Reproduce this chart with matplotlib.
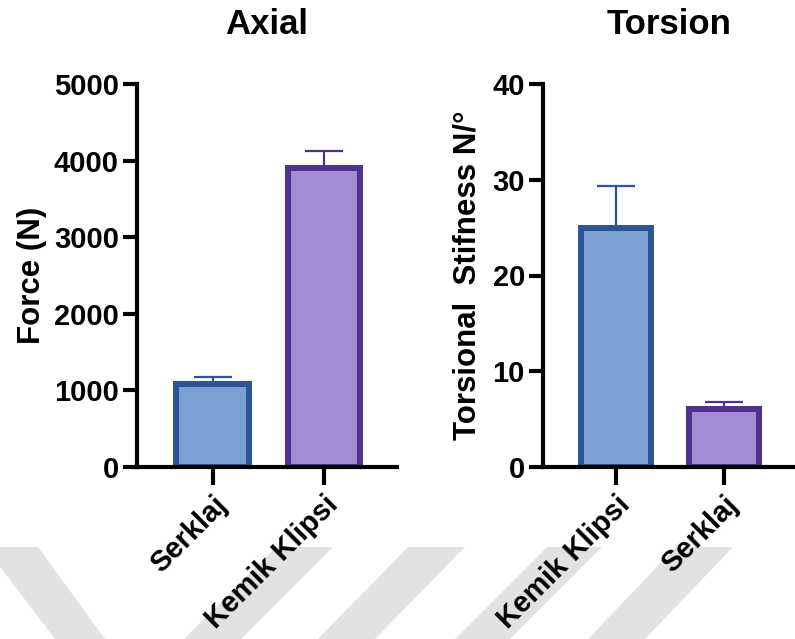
import matplotlib
matplotlib.use("Agg")
import matplotlib.pyplot as plt
from matplotlib.patches import Polygon

plt.rcParams['font.family'] = ['Liberation Sans', 'DejaVu Sans']
plt.rcParams['font.weight'] = 'bold'

# data
axial_groups = ['Serklaj', 'Kemik Klipsi']
axial_mean = [1080, 3900]
axial_err = [95, 230]

torsion_groups = ['Kemik Klipsi', 'Serklaj']
torsion_mean = [25.0, 6.1]
torsion_err = [4.3, 0.7]

blue_face, blue_edge = '#7ba0d4', '#2c5597'
purple_face, purple_edge = '#a58bd3', '#50318f'

W, H = 795, 639
fig = plt.figure(figsize=(W / 100, H / 100), dpi=100)

# watermark stripes in the background (pixel coords of the picture)
stripes = [
    [(-15, 547), (38, 547), (105, 639), (55, 639)],
    [(276, 547), (333, 547), (241, 639), (184, 639)],
    [(408, 547), (465, 547), (375, 639), (318, 639)],
    [(547, 547), (602, 547), (510, 639), (455, 639)],
    [(676, 547), (733, 547), (645, 639), (588, 639)],
]
for s in stripes:
    pts = [(x / W, 1 - y / H) for x, y in s]
    fig.patches.append(Polygon(pts, closed=True, transform=fig.transFigure,
                               facecolor='#e2e2e2', edgecolor='none', zorder=-1))


def draw_panel(ax, groups, means, errs, colors, ylim, yticks, ylabel, title, lpad):
    x = list(range(len(groups)))
    faces = [c[0] for c in colors]
    edges = [c[1] for c in colors]
    ax.bar(x, means, width=0.65, color=faces, edgecolor=edges, linewidth=4.3, zorder=2)
    for xi, m, e, ec in zip(x, means, errs, edges):
        ax.errorbar(xi, m, yerr=[[0], [e]], fmt='none', ecolor=ec,
                    elinewidth=1.6, capsize=14, capthick=1.6, zorder=1)
    ax.set_xlim(-0.68, len(groups) - 1 + 0.66)
    ax.set_ylim(*ylim)
    ax.set_yticks(yticks)
    ax.set_xticks(x)
    ax.set_xticklabels(groups, rotation=45, ha='right', rotation_mode='anchor',
                       fontsize=21, fontweight='bold')
    for lab in ax.get_yticklabels():
        lab.set_fontsize(21)
        lab.set_fontweight('bold')
    ax.set_ylabel(ylabel, fontsize=22.5, fontweight='bold', labelpad=lpad)
    ax.set_title(title, fontsize=25, fontweight='bold', pad=36)
    ax.spines['top'].set_visible(False)
    ax.spines['right'].set_visible(False)
    ax.spines['left'].set_linewidth(3)
    ax.spines['bottom'].set_linewidth(3)
    ax.tick_params(axis='y', length=10, width=3, pad=3)
    ax.tick_params(axis='x', length=13, width=3, pad=4)
    ax.patch.set_alpha(0)


ax1 = fig.add_axes([137 / W, 1 - 467 / H, 260 / W, 383 / H])
draw_panel(ax1, axial_groups, axial_mean, axial_err,
           [(blue_face, blue_edge), (purple_face, purple_edge)],
           (0, 5000), [0, 1000, 2000, 3000, 4000, 5000], 'Force (N)', 'Axial', 5)

ax2 = fig.add_axes([543 / W, 1 - 467 / H, 252 / W, 383 / H])
draw_panel(ax2, torsion_groups, torsion_mean, torsion_err,
           [(blue_face, blue_edge), (purple_face, purple_edge)],
           (0, 40), [0, 10, 20, 30, 40], 'Torsional  Stifness N/°', 'Torsion', 7)

fig.savefig('out.png', dpi=100)
